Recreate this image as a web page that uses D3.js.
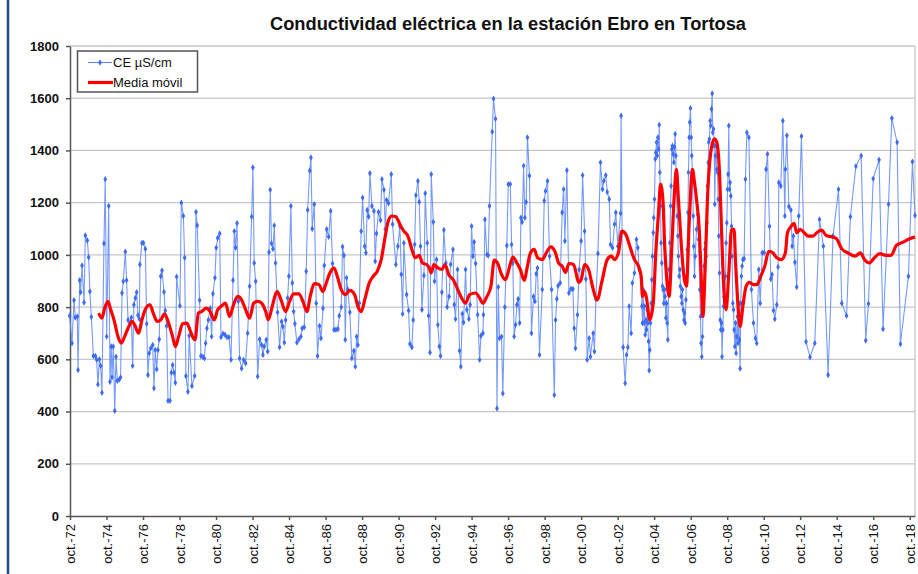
<!DOCTYPE html>
<meta charset="utf-8">
<style>
  body { margin: 0; background: #fff; }
  text { font-family: Arial, "Liberation Sans", sans-serif; }
</style>
<body>
<svg id="chart" width="918" height="574"></svg>
<script src="https://d3js.org/d3.v7.min.js"></script>
<script>
  // medidas de conductividad [año decimal, µS/cm]
  const ceMedidas = [
    [1972.73,767],[1972.86,662],[1972.97,826],[1973.04,760],[1973.15,764],[1973.19,559],[1973.28,903],[1973.33,857],
    [1973.41,959],[1973.52,818],[1973.59,1074],[1973.70,1055],[1973.77,991],[1973.84,860],[1973.92,762],[1974.03,613],
    [1974.14,613],[1974.21,598],[1974.28,504],[1974.36,600],[1974.43,575],[1974.50,472],[1974.61,1044],[1974.68,1290],
    [1974.76,687],[1974.87,1187],[1974.94,514],[1975.01,649],[1975.05,531],[1975.12,649],[1975.20,403],[1975.27,610],
    [1975.34,518],[1975.45,523],[1975.52,531],[1975.60,854],[1975.67,899],[1975.78,1012],[1975.85,903],[1975.93,751],
    [1976.04,739],[1976.11,760],[1976.18,575],[1976.25,809],[1976.33,835],[1976.40,857],[1976.47,769],[1976.55,754],
    [1976.58,963],[1976.69,1046],[1976.77,1046],[1976.88,1023],[1976.95,736],[1977.02,540],[1977.09,623],[1977.17,642],
    [1977.28,655],[1977.35,489],[1977.42,636],[1977.50,562],[1977.57,636],[1977.64,677],[1977.72,918],[1977.79,940],
    [1977.90,858],[1977.97,787],[1978.04,728],[1978.12,441],[1978.23,441],[1978.30,549],[1978.37,578],[1978.45,549],
    [1978.52,510],[1978.59,916],[1978.77,805],[1978.85,1200],[1978.96,1149],[1979.03,989],[1979.10,536],[1979.21,476],
    [1979.28,690],[1979.43,498],[1979.58,536],[1979.65,1164],[1979.72,1113],
    [1979.85,826],[1979.92,613],[1980.03,610],[1980.11,604],[1980.18,662],[1980.25,719],[1980.33,751],[1980.43,796],
    [1980.51,687],[1980.58,851],[1980.69,912],[1980.76,1027],[1980.84,1065],[1980.95,1082],[1981.02,685],[1981.13,698],
    [1981.24,694],[1981.35,685],[1981.46,685],[1981.57,598],[1981.68,903],[1981.75,1091],[1981.82,1027],[1981.90,1121],
    [1981.97,822],[1982.04,604],[1982.15,565],[1982.26,598],[1982.37,585],[1982.48,700],[1982.59,880],[1982.70,1146],
    [1982.77,1335],[1982.84,969],[1982.92,899],[1983.03,534],[1983.14,677],[1983.25,655],[1983.32,617],[1983.39,649],
    [1983.50,675],[1983.58,630],[1983.65,1010],[1983.72,1249],[1983.79,1044],[1983.87,1023],[1983.94,1113],[1984.01,969],
    [1984.12,780],[1984.23,646],[1984.34,745],[1984.41,726],[1984.49,664],[1984.56,751],[1984.67,835],[1984.74,918],
    [1984.85,1187],[1984.93,892],[1985.00,783],[1985.07,736],[1985.18,664],[1985.29,677],[1985.40,687],[1985.47,719],
    [1985.58,723],[1985.69,937],[1985.77,1172],[1985.88,1322],[1985.95,1373],[1986.02,1100],[1986.13,1194],[1986.24,815],
    [1986.31,613],[1986.42,728],[1986.50,681],[1986.61,796],[1986.68,959],
    [1986.81,1098],[1986.92,1069],[1987.03,1168],[1987.13,967],[1987.21,713],[1987.32,713],[1987.43,716],[1987.50,767],
    [1987.61,800],[1987.68,1031],[1987.76,998],[1987.83,675],[1987.90,912],[1987.97,867],[1988.08,780],[1988.19,604],
    [1988.30,633],[1988.38,572],[1988.45,687],[1988.52,655],[1988.60,815],[1988.70,1091],[1988.78,1219],[1988.89,1033],
    [1988.96,1008],[1989.03,1172],[1989.11,1146],[1989.18,1313],[1989.29,1187],[1989.40,1168],[1989.47,976],[1989.54,1082],
    [1989.65,1164],[1989.76,1133],[1989.84,1290],[1989.95,1249],[1990.02,1098],[1990.09,1210],[1990.20,1198],[1990.35,1309],
    [1990.42,1117],[1990.60,963],[1990.71,1033],[1990.82,1110],[1990.90,925],[1990.97,774],[1991.04,1046],[1991.19,848],
    [1991.30,787],[1991.37,659],[1991.48,646],[1991.55,751],[1991.63,1040],[1991.70,1228],[1991.81,1283],[1991.88,1203],
    [1991.95,1033],[1992.03,790],[1992.14,921],[1992.21,1236],[1992.32,1046],[1992.39,767],[1992.47,626],[1992.54,1309],
    [1992.65,1126],[1992.72,899],[1992.83,982],[1992.90,732],[1992.98,649],[1993.05,613],[1993.12,857],[1993.23,1095],
    [1993.34,969],[1993.41,800],[1993.52,841],[1993.60,963],
    [1993.73,1021],[1993.80,809],[1993.87,754],[1993.98,944],[1994.09,633],[1994.16,572],[1994.24,775],[1994.31,741],
    [1994.42,944],[1994.49,790],[1994.60,754],[1994.67,809],[1994.75,1110],[1994.82,995],[1994.89,1049],[1994.97,967],
    [1995.08,771],[1995.19,598],[1995.26,690],[1995.37,700],[1995.40,771],[1995.48,1136],[1995.59,1001],[1995.66,998],
    [1995.73,1187],[1995.88,1472],[1995.95,1598],[1996.06,1521],[1996.14,412],[1996.21,877],[1996.28,681],[1996.39,687],
    [1996.46,469],[1996.57,800],[1996.68,1036],[1996.76,1271],[1996.87,1271],[1996.94,1040],[1997.01,969],[1997.08,687],
    [1997.16,732],[1997.23,809],[1997.30,831],[1997.38,739],[1997.45,1142],[1997.52,1126],[1997.60,1341],[1997.67,1142],
    [1997.74,1203],[1997.81,1450],[1997.92,1303],[1998.03,700],[1998.14,841],[1998.22,822],[1998.29,928],[1998.36,950],
    [1998.47,617],[1998.62,867],[1998.73,1207],[1998.80,1245],[1998.91,1283],[1999.02,995],[1999.13,867],[1999.28,463],
    [1999.35,751],[1999.42,831],[1999.49,882],[1999.60,892],[1999.71,1162],[1999.79,1251],[1999.86,1053],[1999.97,1324],
    [2000.08,854],[2000.19,869],[2000.30,869],[2000.37,719],[2000.44,642],[2000.55,771],
    [2000.64,944],[2000.75,1053],[2000.83,1305],[2000.94,1091],[2001.01,908],[2001.08,598],[2001.19,681],[2001.26,610],
    [2001.41,700],[2001.48,630],[2001.56,831],[2001.67,1005],[2001.81,1354],[2001.92,1251],[2001.99,1283],[2002.10,1305],
    [2002.18,1241],[2002.29,1213],[2002.36,1040],[2002.47,1027],[2002.58,1117],[2002.65,1162],[2002.76,1033],[2002.91,1159],
    [2002.94,1533],[2003.05,646],[2003.16,508],[2003.24,617],[2003.31,646],[2003.38,803],[2003.49,700],[2003.56,892],
    [2003.67,931],[2003.78,1059],[2003.86,1027],[2003.93,944],
    [2004.04,912],[2004.08,803],[2004.11,739],[2004.15,867],[2004.19,739],[2004.22,803],[2004.26,694],[2004.30,751],
    [2004.33,713],[2004.37,790],[2004.40,739],[2004.44,668],[2004.48,557],[2004.51,636],[2004.55,739],[2004.59,815],
    [2004.62,905],[2004.66,995],[2004.70,1085],[2004.73,1142],[2004.77,1213],[2004.81,1367],[2004.84,1392],[2004.88,1431],
    [2004.92,1380],[2004.95,1450],[2004.99,1405],[2005.03,1498],[2005.06,1316],[2005.10,1187],[2005.13,1046],[2005.17,969],
    [2005.21,880],[2005.24,867],[2005.28,815],[2005.32,867],[2005.35,841],[2005.39,758],[2005.43,815],[2005.46,739],
    [2005.50,675],[2005.54,867],[2005.57,944],[2005.61,1046],[2005.65,1187],[2005.68,1264],[2005.72,1405],[2005.75,1418],
    [2005.79,1386],[2005.83,1354],[2005.86,1412],[2005.90,1463],[2005.94,1380],[2005.97,1251],[2006.01,1149],[2006.05,1072],
    [2006.08,995],[2006.12,918],[2006.16,944],[2006.19,880],[2006.23,841],[2006.27,815],[2006.30,867],[2006.34,790],
    [2006.38,751],[2006.41,777],[2006.45,739],[2006.49,828],[2006.52,918],[2006.56,1021],[2006.60,1162],[2006.63,1316],
    [2006.67,1450],[2006.70,1508],[2006.74,1562],[2006.78,1450],[2006.81,1380],[2006.85,1303],[2006.89,1149],[2006.92,1033],
    [2006.96,918],[2007.00,995],[2007.07,1098],[2007.14,1155],[2007.18,1059],[2007.25,867],[2007.29,764],[2007.32,662],
    [2007.36,610],[2007.40,687],
    [2007.45,867],[2007.49,957],[2007.53,1021],[2007.56,1046],[2007.60,995],[2007.64,1123],[2007.67,1264],[2007.71,1354],
    [2007.74,1431],[2007.78,1444],[2007.82,1514],[2007.85,1495],[2007.89,1559],[2007.93,1618],[2007.96,1469],[2008.00,1482],
    [2008.04,1418],[2008.07,1194],[2008.11,1380],[2008.15,1418],[2008.18,1328],[2008.22,1316],[2008.26,1213],[2008.29,1072],
    [2008.33,931],[2008.37,751],[2008.40,713],[2008.44,739],[2008.47,610],[2008.51,713],[2008.55,803],[2008.58,841],
    [2008.62,815],[2008.66,918],[2008.69,1046],[2008.73,1123],[2008.77,1251],[2008.80,1309],[2008.84,1495],[2008.88,1251],
    [2008.91,1277],[2008.95,1226],[2008.99,1110],[2009.02,995],[2009.06,815],[2009.10,790],[2009.13,713],[2009.17,649],
    [2009.21,739],[2009.24,623],[2009.28,687],[2009.31,764],[2009.35,662],[2009.39,815],[2009.42,675],[2009.46,565],
    [2009.50,815],[2009.53,918],[2009.57,957],[2009.61,982],[2009.68,985],[2009.75,1290],[2009.83,1469],[2009.94,1450],
    [2010.08,867],[2010.19,739],[2010.30,681],[2010.37,662],[2010.48,944],[2010.56,815],[2010.67,1008],[2010.78,1008],
    [2010.88,1328],[2010.96,1386],[2011.07,1110],[2011.14,908],[2011.21,925],[2011.29,787],[2011.36,754],[2011.47,809],
    [2011.54,954],[2011.58,1277],[2011.69,1264],[2011.80,1514],[2011.91,1149],[2011.94,1328],[2012.02,1457],[2012.13,1185],
    [2012.24,1172],[2012.31,1033],[2012.38,1072],[2012.46,972],[2012.56,877],[2012.67,1149],[2012.82,1454],[2013.07,667],
    [2013.29,608],[2013.55,662],[2013.81,1136],[2014.02,1033],[2014.28,540],
    [2014.55,1072],[2014.85,1251],[2015.03,815],[2015.29,767],[2015.50,1146],[2015.80,1339],[2016.09,1380],[2016.34,672],
    [2016.49,813],[2016.75,1292],[2017.07,1364],[2017.29,716],[2017.59,1194],[2017.77,1523],[2018.06,1431],[2018.24,659],
    [2018.68,918],[2018.90,1357],[2019.04,1151]
  ];

  // media móvil [año decimal, µS/cm]
  const mediaMovil = [
    [1974.32,777],[1974.50,758],[1974.65,796],[1974.83,822],[1974.98,790],[1975.16,751],[1975.38,687],[1975.56,662],
    [1975.74,687],[1975.93,719],[1976.15,745],[1976.29,732],[1976.51,700],[1976.69,751],[1976.88,792],[1977.13,809],
    [1977.31,777],[1977.53,745],[1977.72,751],[1977.93,774],[1978.15,739],[1978.37,687],[1978.52,649],[1978.70,687],
    [1978.92,736],[1979.14,739],[1979.32,713],[1979.50,681],[1979.60,675],[1979.78,777],[1979.96,783],[1980.22,796],
    [1980.43,783],[1980.65,751],[1980.84,790],[1981.06,805],[1981.27,815],[1981.49,764],[1981.71,809],[1981.93,841],
    [1982.15,828],[1982.37,790],[1982.59,758],[1982.81,815],[1983.03,822],[1983.25,815],[1983.47,783],[1983.61,751],
    [1983.83,803],[1984.09,860],[1984.31,828],[1984.56,783],[1984.78,822],[1985.00,851],[1985.29,851],[1985.51,822],
    [1985.73,783],[1985.91,841],[1986.13,890],[1986.39,886],[1986.61,860],[1986.73,880],[1986.95,925],[1987.21,950],
    [1987.39,918],[1987.61,867],[1987.83,848],[1988.08,864],[1988.34,848],[1988.52,803],[1988.70,783],[1988.92,835],
    [1989.14,892],[1989.36,918],[1989.58,937],[1989.80,982],[1990.02,1072],[1990.20,1133],[1990.38,1149],[1990.60,1146],
    [1990.82,1117],[1991.04,1091],[1991.26,1072],[1991.48,1021],[1991.66,989],[1991.88,998],[1992.06,969],[1992.28,963],
    [1992.43,950],[1992.54,931],[1992.68,963],[1992.90,950],[1993.12,944],[1993.30,963],[1993.49,925],[1993.76,903],
    [1993.98,869],[1994.20,835],[1994.42,815],[1994.64,848],[1994.97,854],[1995.19,835],[1995.37,815],[1995.59,841],
    [1995.81,880],[1995.99,980],[1996.17,969],[1996.39,925],[1996.61,905],[1996.79,944],[1997.01,992],[1997.23,969],
    [1997.41,946],[1997.63,903],[1997.81,957],[1997.96,1005],[1998.18,1021],[1998.36,989],[1998.62,982],[1998.84,1008],
    [1999.09,1031],[1999.31,1014],[1999.53,967],[1999.71,957],[1999.90,933],[2000.08,967],[2000.33,963],[2000.63,895],
    [2000.75,905],[2000.94,963],[2001.16,944],[2001.37,880],[2001.63,828],[2001.89,899],[2002.18,982],[2002.40,995],
    [2002.58,982],[2002.80,1010],[2002.98,1091],[2003.20,1078],[2003.42,1033],[2003.67,982],[2003.89,957],[2004.04,918],
    [2004.11,841],[2004.22,860],[2004.33,835],[2004.51,751],[2004.70,815],[2004.84,1008],[2004.99,1162],[2005.10,1271],
    [2005.24,1200],[2005.32,1046],[2005.43,918],[2005.57,841],[2005.72,1033],[2005.86,1239],[2005.97,1328],[2006.08,1213],
    [2006.23,1046],[2006.38,918],[2006.52,880],[2006.67,1123],[2006.85,1328],[2006.96,1277],[2007.07,1213],[2007.22,1098],
    [2007.32,931],[2007.42,764],[2007.53,918],[2007.67,1213],[2007.85,1392],[2008.04,1444],[2008.18,1431],[2008.33,1316],
    [2008.44,1098],[2008.55,892],[2008.69,790],[2008.84,931],[2008.99,1098],[2009.13,1098],[2009.21,969],[2009.31,841],
    [2009.46,726],[2009.61,803],[2009.79,880],[2009.97,895],[2010.19,886],[2010.37,886],[2010.59,918],[2010.81,957],
    [2011.03,1014],[2011.25,1008],[2011.47,989],[2011.72,982],[2011.94,1008],[2012.05,1085],[2012.24,1108],[2012.42,1121],
    [2012.56,1085],[2012.75,1098],[2012.97,1085],[2013.19,1072],[2013.44,1072],[2013.66,1085],[2013.92,1095],[2014.17,1075],
    [2014.50,1069],[2014.74,1062],[2015.03,1023],[2015.36,1008],[2015.76,995],[2016.05,1008],[2016.27,982],[2016.53,969],
    [2016.82,989],[2017.11,1005],[2017.44,998],[2017.73,998],[2018.02,1036],[2018.39,1049],[2018.75,1062],[2019.04,1068]
  ];

  const ticksValor = [0, 200, 400, 600, 800, 1000, 1200, 1400, 1600, 1800];
  const ticksAnio = [1972, 1974, 1976, 1978, 1980, 1982, 1984, 1986, 1988, 1990, 1992, 1994,
    1996, 1998, 2000, 2002, 2004, 2006, 2008, 2010, 2012, 2014, 2016, 2018];

  const svg = d3.select('#chart');

  const x = d3.scaleLinear().domain([1972.75, 2019.04]).range([70, 915]);
  const y = d3.scaleLinear().domain([0, 1800]).range([516, 46]);

  // marco izquierdo
  svg.append('line')
      .attr('x1', 8).attr('x2', 8).attr('y1', 0).attr('y2', 574)
      .attr('stroke', '#1f4a7f').attr('stroke-width', 2.5);

  // rejilla
  svg.append('g').selectAll('line').data(ticksValor.filter(d => d > 0)).enter().append('line')
      .attr('x1', 70).attr('x2', 915)
      .attr('y1', d => y(d)).attr('y2', d => y(d))
      .attr('stroke', '#c6c6c6').attr('stroke-width', 1.3);
  svg.append('line')
      .attr('x1', 915).attr('x2', 915).attr('y1', y(1800)).attr('y2', y(0))
      .attr('stroke', '#c6c6c6').attr('stroke-width', 1.3);

  // ejes
  const ejeY = svg.append('g')
      .attr('transform', 'translate(70,0)')
      .call(d3.axisLeft(y).tickValues(ticksValor).tickFormat(d3.format('d'))
        .tickSize(4).tickSizeOuter(0).tickPadding(7));
  ejeY.selectAll('text').attr('font-size', 13).attr('font-weight', 'bold').attr('fill', '#111');

  const ejeX = svg.append('g')
      .attr('transform', 'translate(0,516)')
      .call(d3.axisBottom(x).tickValues(ticksAnio.map(a => a + 0.75))
        .tickSize(4).tickSizeOuter(0)
        .tickFormat(d => 'oct.-' + String(Math.floor(d)).slice(2)));
  ejeX.selectAll('text')
      .attr('font-size', 13).attr('fill', '#111')
      .attr('transform', 'rotate(-90)')
      .attr('text-anchor', 'end')
      .attr('x', -8).attr('y', 0).attr('dy', '0.35em');

  svg.selectAll('.domain, .tick line').attr('stroke', '#555').attr('stroke-width', 1.5);

  // serie CE
  const lineaCE = d3.line().x(d => x(d[0])).y(d => y(d[1]));
  svg.append('path')
      .datum(ceMedidas)
      .attr('d', lineaCE)
      .attr('fill', 'none')
      .attr('stroke', '#5f88f6')
      .attr('stroke-opacity', 0.85)
      .attr('stroke-width', 1.1);

  const rombo = d3.symbol().type(d3.symbolDiamond).size(12);
  svg.append('g').selectAll('path').data(ceMedidas).enter().append('path')
      .attr('d', rombo)
      .attr('transform', d => `translate(${x(d[0])},${y(d[1])})`)
      .attr('fill', '#3d6cf2');

  // media móvil
  const lineaMedia = d3.line().x(d => x(d[0])).y(d => y(d[1])).curve(d3.curveMonotoneX);
  svg.append('path')
      .datum(mediaMovil)
      .attr('d', lineaMedia)
      .attr('fill', 'none')
      .attr('stroke', '#ff0000')
      .attr('stroke-width', 3.2)
      .attr('stroke-linejoin', 'round');

  // título
  svg.append('text')
      .attr('x', 508).attr('y', 30)
      .attr('text-anchor', 'middle')
      .attr('font-size', 18).attr('font-weight', 'bold').attr('fill', '#111')
      .attr('textLength', 476).attr('lengthAdjust', 'spacingAndGlyphs')
      .text('Conductividad eléctrica en la estación Ebro en Tortosa');

  // leyenda
  const ley = svg.append('g');
  ley.append('rect')
      .attr('x', 77.5).attr('y', 51).attr('width', 120).attr('height', 41)
      .attr('fill', '#fff').attr('stroke', '#555').attr('stroke-width', 1.5);
  ley.append('line')
      .attr('x1', 88).attr('x2', 112).attr('y1', 62.5).attr('y2', 62.5)
      .attr('stroke', '#5f88f6').attr('stroke-width', 1.1);
  ley.append('path')
      .attr('d', rombo).attr('transform', 'translate(100,62.5)').attr('fill', '#3d6cf2');
  ley.append('text').attr('x', 113).attr('y', 67).attr('font-size', 13).attr('fill', '#111')
      .text('CE µS/cm');
  ley.append('line')
      .attr('x1', 88).attr('x2', 113).attr('y1', 82.5).attr('y2', 82.5)
      .attr('stroke', '#ff0000').attr('stroke-width', 3.2);
  ley.append('text').attr('x', 113).attr('y', 87).attr('font-size', 13).attr('fill', '#111')
      .text('Media móvil');
</script>
